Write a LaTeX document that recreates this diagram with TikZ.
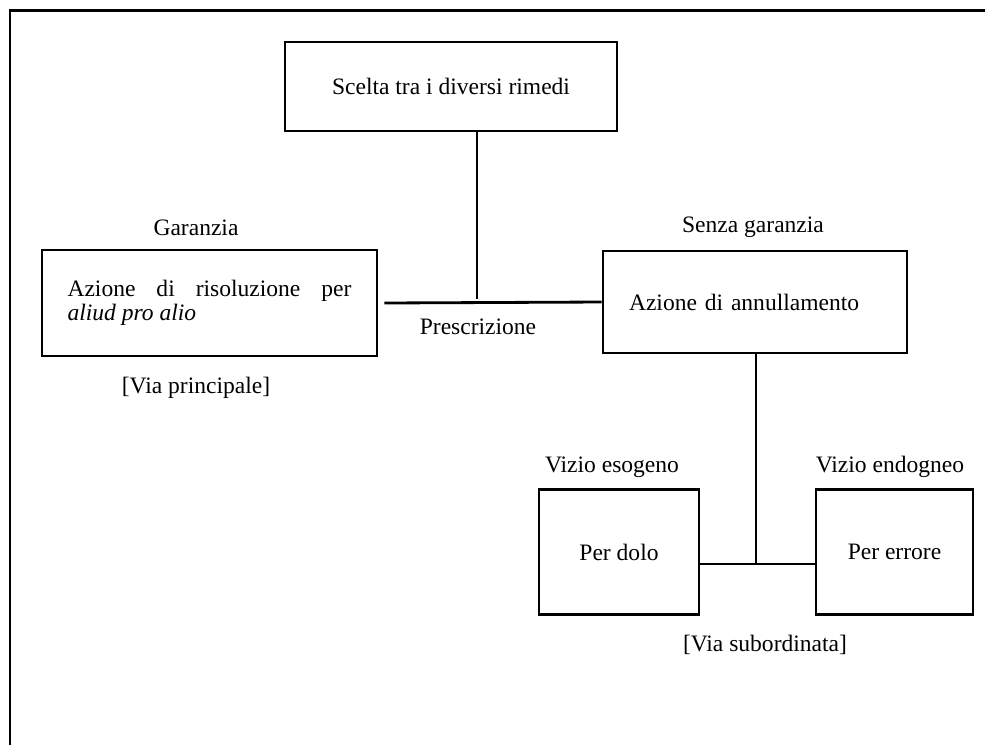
\documentclass[tikz,border=0pt]{standalone}
\usepackage{fontspec}
\setmainfont{Liberation Serif}
\usepackage{tikz}
\usetikzlibrary{positioning,calc}
\tikzset{
  box/.style={draw, line width=1.6pt, inner sep=0pt, align=center},
  lbl/.style={inner sep=1pt},
  lnk/.style={draw, line width=1.6pt}
}

\begin{document}
\begin{tikzpicture}[x=0.02cm, y=-0.02cm, font=\fontsize{13.4}{13.8}\selectfont]
\useasboundingbox (0,0) rectangle (985,745);
% outer frame
\draw[line width=1.7pt] (10,745) -- (10,10) -- (985,10);
% boxes
\node[box, minimum width=6.64cm, minimum height=1.78cm] (scelta) at (451,86.5) {Scelta tra i diversi rimedi};
\node[box, text width=5.68cm, inner xsep=0.51cm, minimum height=2.12cm, align=justify] (risol) at (209.5,303)
  {Azione di risoluzione per\linebreak \textit{aliud pro alio}};
\node[box, text width=5.04cm, inner xsep=0.52cm, minimum height=2.04cm, align=left] (annul) at (755,302) {Azione di annullamento};
\node[box, minimum width=3.2cm, minimum height=2.5cm] (dolo) at (619,552) {Per dolo};
\node[box, minimum width=3.14cm, minimum height=2.5cm] (errore) at (894.5,552) {Per errore};
% labels
\node[lbl] (garanzia) at (196,228) {Garanzia};
\node[lbl] (senza) at (753,227) {Senza garanzia};
\node[lbl] (viaprinc) at (196,388) {[Via principale]};
\node[lbl] (prescr) at (478,327) {Prescrizione};
\node[lbl] (esogeno) at (612,467) {Vizio esogeno};
\node[lbl] (endogeno) at (890,467) {Vizio endogneo};
\node[lbl] (viasub) at (765,645) {[Via subordinata]};
% connectors
\coordinate (jtop) at (477,299);
\coordinate (jlow) at (756,564);
\path[lnk] (scelta.south -| jtop) -- (jtop);
\path[lnk] ([xshift=0.12cm]risol.east) -- (annul.west);
\path[lnk] (annul.south -| jlow) -- (jlow);
\path[lnk] (dolo.east |- jlow) -- (errore.west |- jlow);
\end{tikzpicture}
\end{document}
